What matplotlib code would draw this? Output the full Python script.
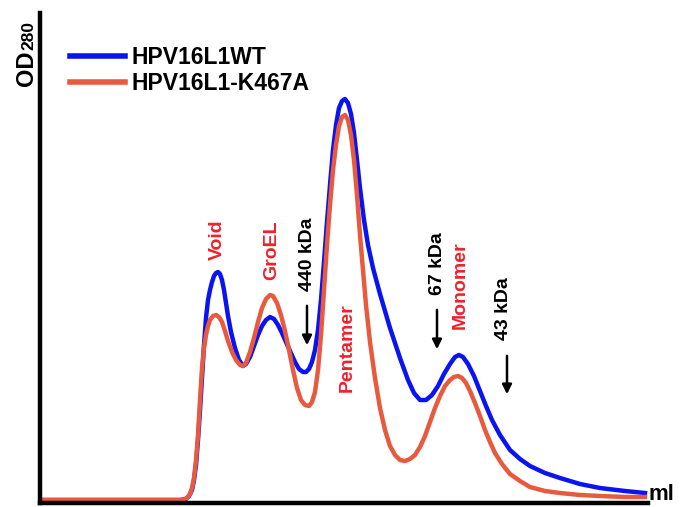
import matplotlib
matplotlib.use("Agg")
import matplotlib.pyplot as plt

# elution volume (arbitrary units) and OD280 readings
wt_x = [0, 140, 146, 149, 152, 154, 156, 158, 160, 162, 164, 166, 168, 170, 172, 174, 176, 178, 180, 182,
        184, 186, 188, 191, 195, 199, 203, 206, 210, 214, 218, 222, 226, 230, 234, 238, 242, 246, 250, 255,
        259, 263, 266, 269, 272, 275, 278, 281, 284, 287, 290, 293, 296, 299, 302, 305, 308, 311, 314, 317,
        320, 324, 328, 333, 340, 350, 360, 368, 374, 380, 386, 392, 398, 404, 410, 415, 419, 423, 428, 434,
        440, 446, 452, 460, 470, 480, 490, 505, 520, 540, 560, 585, 605]
wt_y = [3, 3, 4, 7, 13, 23, 38, 63, 93, 125, 158, 185, 203, 213, 221, 227, 230, 231, 229, 223,
        213, 200, 187, 171, 155, 143, 137, 139, 146, 157, 168, 177, 183, 186, 184, 178, 170, 161, 152, 141,
        134, 131, 131, 134, 141, 153, 173, 203, 241, 281, 318, 353, 378, 395, 402, 404, 400, 389, 370, 343,
        315, 283, 258, 235, 209, 175, 145, 123, 110, 103, 103, 108, 117, 129, 139, 146, 148, 146, 139, 127,
        112, 97, 83, 68, 53, 44, 37, 30, 25, 19, 15, 12, 10]

mut_x = [0, 142, 147, 150, 152, 154, 156, 158, 160, 162, 164, 166, 168, 170, 173, 176, 179, 182, 185, 188,
         192, 196, 200, 203, 206, 210, 214, 218, 222, 226, 230, 233, 237, 241, 245, 249, 253, 257, 261, 265,
         269, 272, 275, 278, 281, 284, 287, 290, 293, 296, 299, 302, 305, 308, 311, 314, 317, 320, 323, 326,
         330, 335, 340, 345, 350, 355, 360, 365, 370, 375, 380, 385, 390, 395, 400, 405, 410, 414, 418, 422,
         426, 430, 435, 440, 445, 450, 455, 462, 470, 480, 490, 505, 520, 540, 560, 585, 605]
mut_y = [3, 3, 5, 9, 15, 25, 43, 68, 103, 135, 155, 168, 177, 183, 187, 188, 186, 181, 172, 162,
         151, 143, 138, 137, 140, 151, 165, 181, 195, 204, 208, 207, 200, 188, 172, 153, 133, 115, 103, 98,
         97, 101, 111, 133, 168, 213, 258, 298, 333, 358, 377, 386, 388, 383, 368, 343, 308, 268, 233, 198,
         161, 125, 95, 73, 57, 48, 43, 42, 44, 48, 56, 67, 81, 95, 107, 117, 123, 126, 127, 125,
         120, 112, 100, 87, 73, 61, 50, 39, 29, 22, 16, 12, 10, 8, 7, 6, 6]

series_labels = ["HPV16L1WT", "HPV16L1-K467A"]

# peak names (red) and marker sizes (black, with arrows)
peak_labels = ["Void", "GroEL", "Pentamer", "Monomer"]
peak_pos = [(177, 263), (232, 253), (307, 155), (420, 218)]
marker_labels = ["440 kDa", "67 kDa", "43 kDa"]
marker_pos = [(268, 249), (398, 239), (463, 194)]
arrow_x = [267, 397, 467]
arrow_top = [200, 196, 150]
arrow_bot = [155, 151, 106]

plt.rcParams["font.family"] = ["Liberation Sans", "DejaVu Sans"]
plt.rcParams["font.weight"] = "bold"

fig = plt.figure(figsize=(6.81, 5.07), dpi=100)
ax = fig.add_axes([40 / 681, 4 / 507, 608 / 681, 490 / 507])

blue = "#0a14f0"
red = "#e85a3e"
ax.plot(wt_x, wt_y, color=blue, lw=3.2, solid_joinstyle="round", label=series_labels[0])
ax.plot(mut_x, mut_y, color=red, lw=3.2, solid_joinstyle="round", label=series_labels[1])

ax.set_xlim(0, 608)
ax.set_ylim(0, 490)

for name, (x, y) in zip(peak_labels, peak_pos):
    ax.text(x, y, name, rotation=90, ha="center", va="center", color="#f0202a",
            fontsize=14, fontweight="bold")
for name, (x, y) in zip(marker_labels, marker_pos):
    ax.text(x, y, name, rotation=90, ha="center", va="center", color="black",
            fontsize=14, fontweight="bold")
for x, y0, y1 in zip(arrow_x, arrow_top, arrow_bot):
    ax.annotate("", xy=(x, y1), xytext=(x, y0),
                arrowprops=dict(arrowstyle="-|>", lw=1.8, color="black", mutation_scale=14))

for side in ["top", "right"]:
    ax.spines[side].set_visible(False)
for side in ["left", "bottom"]:
    ax.spines[side].set_linewidth(3.2)
    ax.spines[side].set_color("black")
ax.set_xticks([])
ax.set_yticks([])

ax.text(609, -2, "ml", va="bottom", ha="left", fontsize=16, fontweight="bold", clip_on=False)

# y axis label: OD with smaller 280
fig.text(33 / 681, 1 - 86 / 507, "OD", rotation=90, rotation_mode="anchor",
         ha="left", va="baseline", fontsize=17, fontweight="bold")
fig.text(33 / 681, 1 - 50 / 507, "280", rotation=90, rotation_mode="anchor",
         ha="left", va="baseline", fontsize=12.5, fontweight="bold")

leg = ax.legend(loc="upper left", bbox_to_anchor=(70 / 681, 1 - 46 / 507),
                bbox_transform=fig.transFigure, frameon=False, fontsize=16.5,
                handlelength=2.4, handletextpad=0.3, labelspacing=0.15, borderaxespad=0,
                borderpad=0)
for line in leg.get_lines():
    line.set_linewidth(4)

fig.savefig("out.png", dpi=100)
